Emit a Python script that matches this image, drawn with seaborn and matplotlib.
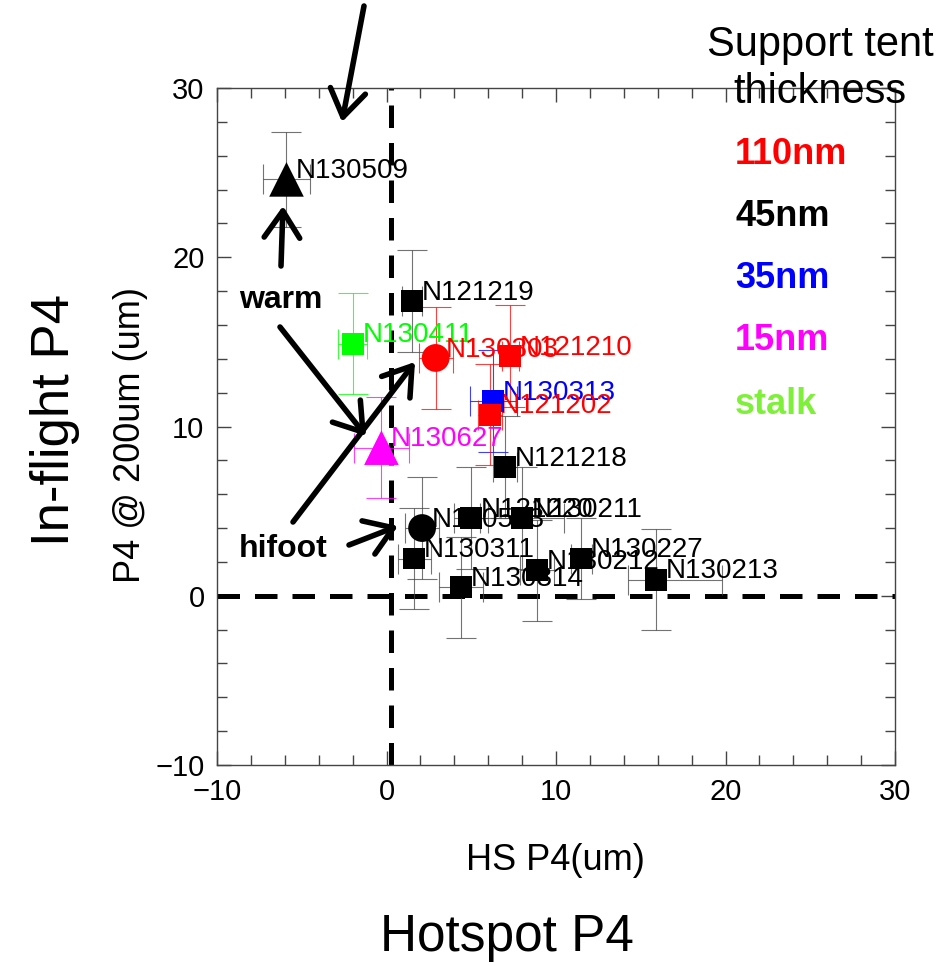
import numpy as np
import pandas as pd
import matplotlib
matplotlib.use("Agg")
import matplotlib.pyplot as plt
import seaborn as sns
from matplotlib.ticker import MultipleLocator

# shot data
shots = ["N130509", "N121219", "N130411", "N130303", "N121210", "N130313",
         "N121202", "N130627", "N121218", "N121220", "N130211", "N130503",
         "N130311", "N130314", "N130212", "N130227", "N130213"]
hs_p4 = [-5.9, 1.5, -2.0, 2.9, 7.3, 6.3, 6.1, -0.3, 7.0, 5.0, 8.0, 2.1,
         1.65, 4.4, 8.9, 11.5, 15.9]
p4 = [24.6, 17.4, 14.9, 14.05, 14.15, 11.5, 10.7, 8.75, 7.6, 4.6, 4.6, 4.0,
      2.2, 0.5, 1.5, 2.2, 0.95]
hs_err_lo = [1.4, 0.6, 0.85, 1.0, 0.5, 1.4, 0.7, 1.6, 0.7, 1.0, 2.5, 1.0,
             1.0, 1.3, 1.0, 0.6, 1.65]
hs_err_hi = [1.4, 0.6, 0.85, 1.0, 0.5, 1.4, 0.7, 1.6, 0.7, 1.0, 2.5, 1.0,
             1.0, 1.3, 1.0, 0.6, 3.9]
p4_err = [2.8, 3.0, 3.0, 3.0, 3.0, 3.0, 3.0, 3.0, 3.0, 3.0, 3.0, 3.0,
          3.0, 3.0, 3.0, 2.4, 3.0]
tent = ["45nm", "45nm", "stalk", "110nm", "110nm", "35nm", "110nm", "15nm",
        "45nm", "45nm", "45nm", "45nm", "45nm", "45nm", "45nm", "45nm", "45nm"]
shape = ["^", "s", "s", "o", "s", "s", "s", "^", "s", "s", "s", "o",
         "s", "s", "s", "s", "s"]

legend_labels = ["110nm", "45nm", "35nm", "15nm", "stalk"]
tent_colors = {"110nm": "#ff0000", "45nm": "#000000", "35nm": "#0000ff",
               "15nm": "#ff00ff", "stalk": "#00ff00"}
legend_text_colors = {"110nm": "#ff0000", "45nm": "#000000", "35nm": "#0000ff",
                      "15nm": "#ff00ff", "stalk": "#7ff03a"}

df = pd.DataFrame({"shot": shots, "hs": hs_p4, "p4": p4, "xlo": hs_err_lo,
                   "xhi": hs_err_hi, "yerr": p4_err, "tent": tent, "shape": shape})

sns.set_style("ticks")
plt.rcParams["font.family"] = ["Liberation Sans", "DejaVu Sans"]
plt.rcParams["text.color"] = "black"
plt.rcParams["xtick.labelcolor"] = "black"
plt.rcParams["ytick.labelcolor"] = "black"

W, H = 942, 966
fig = plt.figure(figsize=(W / 100, H / 100), dpi=100)


def px(x, y):
    return x / W, 1 - y / H


ax = fig.add_axes([217 / W, 1 - 765 / H, (895 - 217) / W, (765 - 88) / H])

# dashed zero lines
ax.axvline(0.25, color="k", lw=3.6, ls=(0, (4.5, 3)), zorder=1)
ax.axhline(0, color="k", lw=3.6, ls=(0, (4.5, 3)), zorder=1)

# error bars
for _, r in df.iterrows():
    c = tent_colors[r["tent"]]
    ecol = "#444444" if r["tent"] == "45nm" else c
    ax.errorbar(r["hs"], r["p4"], xerr=[[r["xlo"]], [r["xhi"]]], yerr=r["yerr"],
                fmt="none", ecolor=ecol, elinewidth=0.8, capsize=11,
                capthick=0.8, alpha=0.75, zorder=2)

# point labels
for _, r in df.iterrows():
    ax.annotate(r["shot"], (r["hs"], r["p4"]), xytext=(7, 6),
                textcoords="offset points", va="center", ha="left",
                fontsize=20, color=tent_colors[r["tent"]], zorder=2.5)

sns.scatterplot(data=df, x="hs", y="p4", hue="tent", style="shape",
                size="shape", sizes={"s": 250, "o": 400, "^": 620},
                markers={"s": "s", "o": "o", "^": "^"}, palette=tent_colors,
                linewidth=0, legend=False, ax=ax, zorder=3)

ax.set_xlim(-10, 30)
ax.set_ylim(-10, 30)
ax.xaxis.set_major_locator(MultipleLocator(10))
ax.yaxis.set_major_locator(MultipleLocator(10))
ax.xaxis.set_minor_locator(MultipleLocator(2))
ax.yaxis.set_minor_locator(MultipleLocator(2))
ax.tick_params(which="both", direction="in", top=True, right=True,
               color="#444444", width=1)
ax.tick_params(which="major", length=10, labelsize=21, pad=9)
ax.tick_params(which="minor", length=7)
for s in ax.spines.values():
    s.set_color("#444444")
    s.set_linewidth(1)
ax.set_xlabel("")
ax.set_ylabel("")

# axis titles
fig.text(*px(555, 860), "HS P4(um)", fontsize=26, ha="center", va="center")
fig.text(*px(507, 938), "Hotspot P4", fontsize=37, ha="center", va="center")
fig.text(*px(130, 435), "P4 @ 200um (um)", fontsize=26, rotation=90,
         ha="center", va="center")
fig.text(*px(55, 420), "In-flight P4", fontsize=38, rotation=90,
         ha="center", va="center")

# legend-like text column
fig.text(*px(820, 45), "Support tent", fontsize=30, ha="center", va="center")
fig.text(*px(820, 92), "thickness", fontsize=30, ha="center", va="center")
for lab, yy in zip(legend_labels, [155, 216, 278, 341, 405]):
    fig.text(*px(735, yy), lab, fontsize=26, fontweight="bold", ha="left",
             va="center", color=legend_text_colors[lab])

fig.text(*px(239, 300), "warm", fontsize=23, fontweight="bold", ha="left", va="center")
fig.text(*px(239, 549), "hifoot", fontsize=23, fontweight="bold", ha="left", va="center")

# annotation arrows (tail -> head, in pixels)
arrows = [((364, 6), (342, 122)), ((281, 266), (283, 206)),
          ((280, 327), (366, 436)), ((293, 522), (415, 362)),
          ((349, 545), (398, 526))]
for tail, head in arrows:
    fig.add_artist(matplotlib.patches.FancyArrowPatch(
        px(*tail), px(*head), transform=fig.transFigure,
        arrowstyle="->,head_length=0.6,head_width=0.4", mutation_scale=32,
        lw=4, color="k", shrinkA=0, shrinkB=0, zorder=5))

fig.savefig("out.png", dpi=100)
